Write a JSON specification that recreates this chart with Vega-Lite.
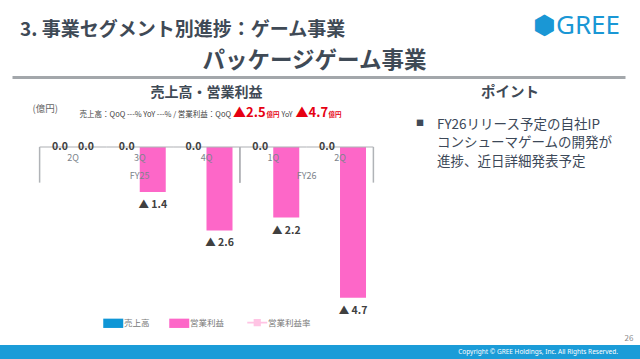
{
  "$schema": "https://vega.github.io/schema/vega-lite/v6.json",
  "padding": 0,
  "background": "white",
  "config": {"view": {"stroke": null}, "font": "Noto Sans CJK JP"},
  "datasets": {
    "bars": [
      {"key": "FY25 2Q", "fy": "FY25", "q": "2Q", "series": "売上高", "value": 0, "label": "0.0"},
      {"key": "FY25 2Q", "fy": "FY25", "q": "2Q", "series": "営業利益", "value": 0, "label": "0.0"},
      {"key": "FY25 3Q", "fy": "FY25", "q": "3Q", "series": "売上高", "value": 0, "label": "0.0"},
      {"key": "FY25 3Q", "fy": "FY25", "q": "3Q", "series": "営業利益", "value": -1.4, "label": "▲ 1.4"},
      {"key": "FY25 4Q", "fy": "FY25", "q": "4Q", "series": "売上高", "value": 0, "label": "0.0"},
      {"key": "FY25 4Q", "fy": "FY25", "q": "4Q", "series": "営業利益", "value": -2.6, "label": "▲ 2.6"},
      {"key": "FY26 1Q", "fy": "FY26", "q": "1Q", "series": "売上高", "value": 0, "label": "0.0"},
      {"key": "FY26 1Q", "fy": "FY26", "q": "1Q", "series": "営業利益", "value": -2.2, "label": "▲ 2.2"},
      {"key": "FY26 2Q", "fy": "FY26", "q": "2Q", "series": "売上高", "value": 0, "label": "0.0"},
      {"key": "FY26 2Q", "fy": "FY26", "q": "2Q", "series": "営業利益", "value": -4.7, "label": "▲ 4.7"}
    ],
    "quarters": [
      {"key": "FY25 2Q", "q": "2Q"},
      {"key": "FY25 3Q", "q": "3Q"},
      {"key": "FY25 4Q", "q": "4Q"},
      {"key": "FY26 1Q", "q": "1Q"},
      {"key": "FY26 2Q", "q": "2Q"}
    ],
    "years": [
      {"fy": "FY25", "start": "FY25 2Q", "end": "FY25 4Q"},
      {"fy": "FY26", "start": "FY26 1Q", "end": "FY26 2Q"}
    ],
    "summary": [{"op_qoq": "▲2.5", "op_yoy": "▲4.7"}],
    "point": [{"text": ["FY26リリース予定の自社IP", "コンシューマゲームの開発が", "進捗、近日詳細発表予定"]}],
    "empty": []
  },
  "spacing": 0,
  "bounds": "full",
  "vconcat": [
    {
      "spacing": 7,
      "bounds": "flush",
      "hconcat": [
        {"width": 5, "height": 83.5, "data": {"name": "empty"}, "mark": "point"},
        {
          "title": {"text": "⬢GREE", "anchor": "end", "offset": -39, "dx": -5, "fontSize": 26, "fontWeight": "normal", "color": "#1a97d5", "font": "Noto Sans"},
          "spacing": 0,
          "bounds": "flush",
          "vconcat": [
            {
              "title": {"text": "3. 事業セグメント別進捗：ゲーム事業", "anchor": "start", "offset": -40, "dx": 8, "fontSize": 19, "fontWeight": "bold", "color": "#3f4a56"},
              "spacing": 0,
              "bounds": "flush",
              "vconcat": [
                {
                  "title": {"text": "パッケージゲーム事業", "anchor": "middle", "offset": -72, "dx": -4, "fontSize": 22.5, "fontWeight": "bold", "color": "#3f4a56"},
                  "width": 613,
                  "height": 77,
                  "data": {"name": "empty"},
                  "mark": "point",
                  "encoding": {
                    "x": {"datum": 0, "type": "quantitative", "scale": {"domain": [0, 1]},
                      "axis": {"orient": "bottom", "domainColor": "#a3a7ab", "domainWidth": 3, "ticks": false, "labels": false, "grid": false, "title": null}}
                  }
                }
              ]
            }
          ]
        }
      ]
    },
    {
      "spacing": 25,
      "bounds": "flush",
      "hconcat": [
        {"width": 5, "height": 243, "data": {"name": "empty"}, "mark": "point"},
        {
          "width": 353,
          "height": 243,
          "title": {"text": "売上高・営業利益", "anchor": "middle", "offset": 2, "fontSize": 14, "fontWeight": "bold", "color": "#3f4a56"},
          "layer": [
            {
              "data": {"name": "bars"},
              "mark": {"type": "bar"},
              "encoding": {
                "x": {"field": "key", "type": "nominal",
                  "scale": {"domain": ["FY25 2Q", "FY25 3Q", "FY25 4Q", "FY26 1Q", "FY26 2Q"], "paddingInner": 0, "paddingOuter": 0.144},
                  "axis": {"orient": "top", "domainColor": "#a8acb0", "domainWidth": 2, "ticks": false, "labels": false, "grid": false, "title": null}},
                "xOffset": {"field": "series", "type": "nominal", "scale": {"domain": ["売上高", "営業利益"], "paddingInner": 0, "paddingOuter": 0.2837}},
                "y": {"field": "value", "type": "quantitative", "scale": {"domain": [-6.1682, 1.4019], "nice": false}, "axis": null},
                "color": {"field": "series", "type": "nominal",
                  "scale": {"domain": ["売上高", "営業利益", "営業利益率"], "range": ["#0f96d6", "#fd67c8", "#ffc4e4"]},
                  "legend": {
                    "orient": "none", "legendX": 109, "legendY": 318, "direction": "horizontal", "title": null,
                    "symbolSize": 400, "symbolType": "M-1,-0.465H1V0.465H-1Z",
                    "labelFontSize": 8.5, "labelColor": "#777777", "labelOffset": 6.5, "columnPadding": 19, "padding": 0,
                    "encode": {"symbols": {"update": {
                      "shape": {"signal": "datum.value === '営業利益率' ? 'M-1,0H1M-0.28,-0.28H0.28V0.28H-0.28Z' : 'M-1,-0.465H1V0.465H-1Z'"},
                      "strokeWidth": {"signal": "datum.value === '営業利益率' ? 1.6 : 0"},
                      "stroke": {"signal": "scale('color', datum.value)"},
                      "fill": {"signal": "scale('color', datum.value)"},
                      "opacity": {"value": 1}
                    }}}
                  }}
              }
            },
            {
              "data": {"name": "quarters"},
              "mark": {"type": "tick", "orient": "horizontal", "size": 66.75, "thickness": 1.5, "color": "#b0b3b7"},
              "encoding": {
                "x": {"field": "key", "type": "nominal", "axis": null},
                "y": {"datum": 0, "axis": null}
              }
            },
            {
              "data": {"name": "years"},
              "mark": {"type": "rule", "color": "#b0b3b7", "strokeWidth": 1.5},
              "encoding": {
                "x": {"field": "start", "type": "nominal", "bandPosition": 0, "axis": null},
                "y": {"datum": 0, "axis": null},
                "y2": {"datum": -1.11}
              }
            },
            {
              "data": {"name": "years"},
              "mark": {"type": "rule", "color": "#b0b3b7", "strokeWidth": 1.5},
              "encoding": {
                "x": {"field": "end", "type": "nominal", "bandPosition": 1, "axis": null},
                "y": {"datum": 0, "axis": null},
                "y2": {"datum": -1.11}
              }
            },
            {
              "data": {"name": "quarters"},
              "mark": {"type": "text", "fontSize": 9, "color": "#7c838b", "baseline": "middle", "dy": 10.7},
              "encoding": {
                "x": {"field": "key", "type": "nominal", "axis": null},
                "y": {"datum": 0, "axis": null},
                "text": {"field": "q"}
              }
            },
            {
              "data": {"name": "years"},
              "transform": [{"filter": {"field": "fy", "equal": "FY25"}}],
              "mark": {"type": "text", "fontSize": 9, "color": "#7c838b", "baseline": "middle", "dy": 29},
              "encoding": {
                "x": {"datum": "FY25 3Q", "axis": null},
                "y": {"datum": 0, "axis": null},
                "text": {"field": "fy"}
              }
            },
            {
              "data": {"name": "years"},
              "transform": [{"filter": {"field": "fy", "equal": "FY26"}}],
              "mark": {"type": "text", "fontSize": 9, "color": "#7c838b", "baseline": "middle", "dy": 29},
              "encoding": {
                "x": {"datum": "FY26 2Q", "bandPosition": 0, "axis": null},
                "y": {"datum": 0, "axis": null},
                "text": {"field": "fy"}
              }
            },
            {
              "data": {"name": "bars"},
              "transform": [{"filter": {"field": "value", "equal": 0}}],
              "mark": {"type": "text", "fontSize": 10.5, "fontWeight": "bold", "color": "#404040", "baseline": "middle"},
              "encoding": {
                "x": {"field": "key", "type": "nominal", "axis": null},
                "xOffset": {"field": "series", "type": "nominal"},
                "y": {"field": "value", "type": "quantitative", "axis": null},
                "text": {"field": "label"}
              }
            },
            {
              "data": {"name": "bars"},
              "transform": [{"filter": {"field": "value", "lt": 0}}],
              "mark": {"type": "text", "fontSize": 10.5, "fontWeight": "bold", "color": "#404040", "baseline": "middle", "dy": 13},
              "encoding": {
                "x": {"field": "key", "type": "nominal", "axis": null},
                "xOffset": {"field": "series", "type": "nominal"},
                "y": {"field": "value", "type": "quantitative", "axis": null},
                "text": {"field": "label"}
              }
            },
            {
              "data": {"name": "summary"},
              "mark": {"type": "text", "align": "left", "baseline": "middle", "dx": -174, "fontSize": 9.5, "color": "#666666"},
              "encoding": {"y": {"datum": 1.19, "axis": null}, "text": {"value": "(億円)"}}
            },
            {
              "data": {"name": "summary"},
              "mark": {"type": "text", "align": "right", "baseline": "alphabetic", "dx": 24.5, "fontSize": 7.5, "color": "#404040"},
              "encoding": {"y": {"datum": 0.92, "axis": null}, "text": {"value": "売上高：QoQ ---% YoY ---% / 営業利益：QoQ"}}
            },
            {
              "data": {"name": "summary"},
              "mark": {"type": "text", "align": "left", "baseline": "alphabetic", "dx": 26.5, "fontSize": 13, "fontWeight": "bold", "color": "#e60012"},
              "encoding": {"y": {"datum": 0.92, "axis": null}, "text": {"field": "op_qoq"}}
            },
            {
              "data": {"name": "summary"},
              "mark": {"type": "text", "align": "left", "baseline": "alphabetic", "dx": 60, "fontSize": 6.5, "fontWeight": "bold", "color": "#e60012"},
              "encoding": {"y": {"datum": 0.92, "axis": null}, "text": {"value": "億円"}}
            },
            {
              "data": {"name": "summary"},
              "mark": {"type": "text", "align": "left", "baseline": "alphabetic", "dx": 75, "fontSize": 7, "color": "#404040"},
              "encoding": {"y": {"datum": 0.92, "axis": null}, "text": {"value": "YoY"}}
            },
            {
              "data": {"name": "summary"},
              "mark": {"type": "text", "align": "left", "baseline": "alphabetic", "dx": 89, "fontSize": 13, "fontWeight": "bold", "color": "#e60012"},
              "encoding": {"y": {"datum": 0.92, "axis": null}, "text": {"field": "op_yoy"}}
            },
            {
              "data": {"name": "summary"},
              "mark": {"type": "text", "align": "left", "baseline": "alphabetic", "dx": 122, "fontSize": 6.5, "fontWeight": "bold", "color": "#e60012"},
              "encoding": {"y": {"datum": 0.92, "axis": null}, "text": {"value": "億円"}}
            }
          ]
        },
        {
          "title": {"text": "26", "orient": "bottom", "anchor": "end", "offset": -10, "dx": 21, "fontSize": 8, "fontWeight": "normal", "color": "#8a8a8a"},
          "spacing": 0,
          "bounds": "flush",
          "vconcat": [
            {
              "width": 204,
              "height": 243,
              "title": {"text": "ポイント", "anchor": "middle", "offset": 2, "fontSize": 14.5, "fontWeight": "bold", "color": "#3f4a56"},
              "data": {"name": "point"},
              "layer": [
                {
                  "mark": {"type": "text", "fontSize": 8, "color": "#404a58", "align": "center", "baseline": "middle", "dx": 12, "dy": -99.2},
                  "encoding": {
                    "x": {"datum": 0, "type": "quantitative", "scale": {"domain": [0, 1]},
                      "axis": {"orient": "top", "domainColor": "#a8acb0", "domainWidth": 2, "ticks": false, "labels": false, "grid": false, "title": null}},
                    "text": {"value": "■"}
                  }
                },
                {
                  "mark": {"type": "text", "fontSize": 13.5, "lineHeight": 18.5, "color": "#3c4858", "align": "left", "baseline": "top", "dx": 29, "dy": -106},
                  "encoding": {
                    "x": {"datum": 0, "type": "quantitative", "axis": null},
                    "text": {"field": "text"}
                  }
                }
              ]
            }
          ]
        }
      ]
    },
    {
      "title": {"text": "Copyright © GREE Holdings, Inc. All Rights Reserved.", "anchor": "end", "offset": -10.5, "dx": -22, "fontSize": 6.5, "fontWeight": "normal", "color": "white", "font": "Noto Sans"},
      "width": 640,
      "height": 15,
      "view": {"fill": "#1b9cd8", "stroke": null},
      "data": {"name": "empty"},
      "mark": "point"
    }
  ]
}
